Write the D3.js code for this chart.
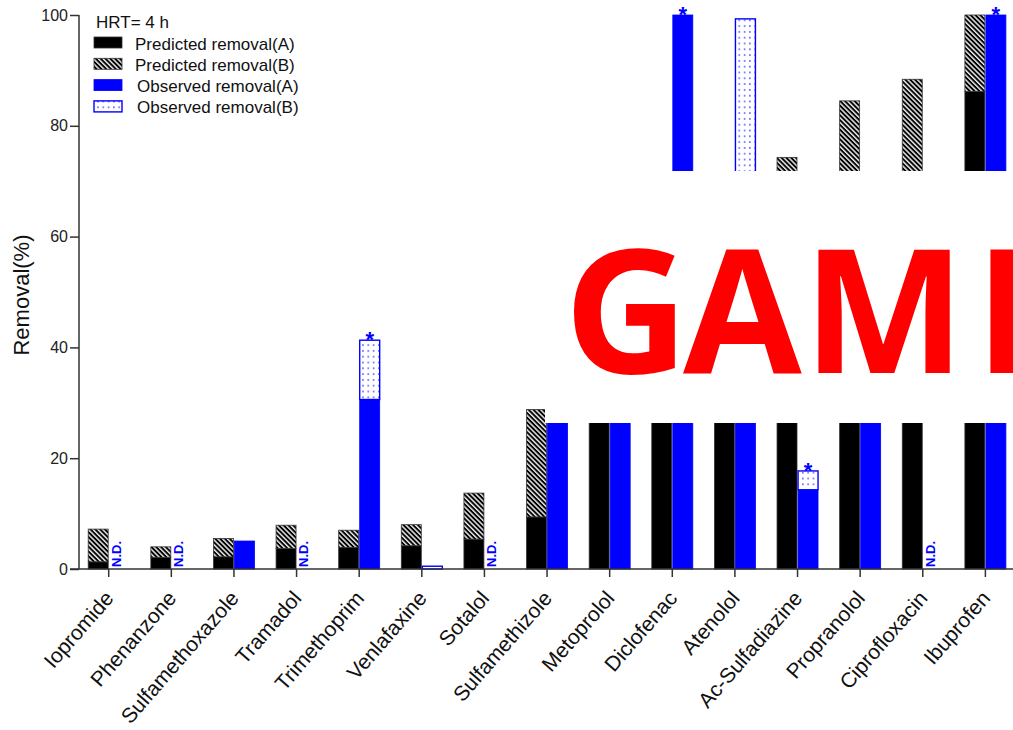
<!DOCTYPE html>
<html>
<head>
<meta charset="utf-8">
<script src="https://cdn.jsdelivr.net/npm/d3@7"></script>
<style>
  html, body { margin: 0; padding: 0; background: #ffffff; }
  svg { display: block; font-family: "Liberation Sans", Arial, sans-serif; }
</style>
</head>
<body>
<svg id="chart" width="1013" height="730"></svg>
<script>
// Compounds on the x axis
const categories = ["Iopromide", "Phenanzone", "Sulfamethoxazole", "Tramadol", "Trimethoprim",
  "Venlafaxine", "Sotalol", "Sulfamethizole", "Metoprolol", "Diclofenac", "Atenolol",
  "Ac-Sulfadiazine", "Propranolol", "Ciprofloxacin", "Ibuprofen"];

// Predicted removal (%) split into mechanism A and the extra part from B (stacked)
const predictedA = [1.3, 2.1, 2.2, 3.7, 3.9, 4.2, 5.4, 9.4, 58, 50, 45, 52, 60, 62, 86.2];
const predictedB = [5.9, 1.9, 3.3, 4.2, 3.1, 3.8, 8.3, 19.4, 0, 0, 0, 22.3, 24.5, 26.4, 13.8];

// Observed removal (%) split the same way; 0 where not detected
const observedA = [0, 0, 5.05, 0, 30.6, 0, 0, 42, 55, 100, 45, 14.3, 50, 0, 100];
const observedB = [0, 0, 0, 0, 10.7, 0.5, 0, 0, 0, 0, 54.3, 3.4, 0, 0, 0];

// Compounds not detected, and compounds flagged with an asterisk
const notDetected = ["Iopromide", "Phenanzone", "Tramadol", "Sotalol", "Ciprofloxacin"];
const flagged = ["Trimethoprim", "Diclofenac", "Ac-Sulfadiazine", "Ibuprofen"];

// Axis ticks and legend
const yTicks = [0, 20, 40, 60, 80, 100];
const legendTitle = "HRT= 4 h";
const legendLabels = ["Predicted removal(A)", "Predicted removal(B)", "Observed removal(A)", "Observed removal(B)"];

const BLUE = "#0000ff";
const svg = d3.select("#chart");

// ---- patterns ----
const defs = svg.append("defs");
const hatch = defs.append("pattern")
  .attr("id", "hatch").attr("patternUnits", "userSpaceOnUse")
  .attr("width", 3.4).attr("height", 10)
  .attr("patternTransform", "rotate(-45)");
hatch.append("rect").attr("width", 3.4).attr("height", 10).attr("fill", "#000");
hatch.append("rect").attr("x", 0).attr("width", 1.5).attr("height", 10).attr("fill", "#e8e8e8");

const dots = defs.append("pattern")
  .attr("id", "dots").attr("patternUnits", "userSpaceOnUse")
  .attr("width", 5.3).attr("height", 5.8);
dots.append("rect").attr("width", 5.3).attr("height", 5.8).attr("fill", "#fff");
dots.append("circle").attr("cx", 2.6).attr("cy", 2.9).attr("r", 0.8).attr("fill", BLUE);

// ---- scales ----
const x = d3.scaleBand().domain(categories).range([77.4, 1016.7]).paddingInner(0).paddingOuter(0);
const inner = d3.scaleBand().domain(["pred", "obs"]).range([-20.5, 20.5]).paddingInner(0.05);
const y = d3.scaleLinear().domain([0, 100]).range([569, 15]);
const cx = c => x(c) + x.bandwidth() / 2;

// ---- stacked data ----
const rows = categories.map((c, i) => ({
  name: c, pA: predictedA[i], pB: predictedB[i], oA: observedA[i], oB: observedB[i]
}));
const predStack = d3.stack().keys(["pA", "pB"])(rows);
const obsStack = d3.stack().keys(["oA", "oB"])(rows);

const fills = { pA: "#000", pB: "url(#hatch)", oA: BLUE, oB: "url(#dots)" };
const strokes = { pA: "#333", pB: "#333", oA: BLUE, oB: BLUE };

const bars = svg.append("g");
function drawStack(stack, slot) {
  stack.forEach(layer => {
    bars.append("g").selectAll("rect")
      .data(layer.filter(d => d[1] - d[0] > 0))
      .join("rect")
      .attr("x", d => cx(d.data.name) + inner(slot))
      .attr("width", inner.bandwidth())
      .attr("y", d => y(d[1]))
      .attr("height", d => y(d[0]) - y(d[1]))
      .attr("fill", fills[layer.key])
      .attr("stroke", strokes[layer.key])
      .attr("stroke-width", layer.key === "oB" ? 1.4 : 0.8);
  });
}
drawStack(predStack, "pred");
drawStack(obsStack, "obs");

// N.D. labels
svg.append("g").selectAll("text")
  .data(notDetected)
  .join("text")
  .attr("transform", d => `translate(${cx(d) + 11.8},${y(0) - 2}) rotate(-90)`)
  .attr("fill", BLUE).attr("font-weight", "bold").attr("font-size", 13)
  .text("N.D.");

// asterisks above flagged observed bars
svg.append("g").selectAll("text")
  .data(flagged)
  .join("text")
  .attr("x", d => cx(d) + inner("obs") + inner.bandwidth() / 2)
  .attr("y", d => { const i = categories.indexOf(d); return y(observedA[i] + observedB[i]) + 7; })
  .attr("text-anchor", "middle")
  .attr("fill", BLUE).attr("font-weight", "bold").attr("font-size", 22)
  .text("*");

// ---- axes ----
const axisColor = "#333";
const yAxis = svg.append("g").attr("transform", "translate(79,0)")
  .call(d3.axisLeft(y).tickValues(yTicks).tickSize(9).tickSizeOuter(0).tickPadding(2));
yAxis.attr("font-family", null);
yAxis.selectAll("text").attr("font-size", 16).attr("fill", "#222");
yAxis.selectAll("line, path").attr("stroke", axisColor).attr("stroke-width", 1.5);
yAxis.select(".domain").attr("d", `M0,${y(100)}V${y(0)}`);

const xAxis = svg.append("g").attr("transform", `translate(0,${y(0)})`)
  .call(d3.axisBottom(x).tickSize(8).tickSizeOuter(0).tickFormat(""));
xAxis.selectAll("line, path").attr("stroke", axisColor).attr("stroke-width", 1.5);
xAxis.select(".domain").attr("d", "M70,0H1013");

// rotated category labels
svg.append("g").selectAll("text")
  .data(categories)
  .join("text")
  .attr("transform", d => `translate(${cx(d) + 6},${599}) rotate(-49)`)
  .attr("text-anchor", "end")
  .attr("font-size", 21).attr("fill", "#111")
  .text(d => d);

// y axis title
svg.append("text")
  .attr("transform", "translate(29,295) rotate(-90)")
  .attr("text-anchor", "middle").attr("font-size", 22).attr("fill", "#111")
  .text("Removal(%)");

// ---- legend ----
const legend = svg.append("g");
legend.append("text").attr("x", 96).attr("y", 28.3).attr("font-size", 17).attr("fill", "#111").text(legendTitle);
const legendFills = [fills.pA, fills.pB, fills.oA, fills.oB];
const legendStrokes = [strokes.pA, strokes.pB, strokes.oA, strokes.oB];
legendLabels.forEach((lab, i) => {
  const top = 37 + i * 21.3;
  legend.append("rect").attr("x", 94).attr("y", top).attr("width", 28).attr("height", 11)
    .attr("fill", legendFills[i]).attr("stroke", legendStrokes[i]).attr("stroke-width", i === 3 ? 1.4 : 0.8);
  legend.append("text").attr("x", i < 2 ? 135 : 137).attr("y", top + 12.5)
    .attr("font-size", 17).attr("fill", "#111").text(lab);
});

// ---- overlay panel with banner text ----
const banner = svg.append("g");
banner.append("rect").attr("x", 545).attr("y", 171).attr("width", 480).attr("height", 252).attr("fill", "#fff");
banner.append("text")
  .attr("x", "564 683 803 975").attr("y", 373)
  .style("font-family", "'Open Sans', sans-serif").attr("font-weight", 700)
  .attr("font-size", 172).attr("fill", "#ff0000")
  .text("GAME");
</script>
</body>
</html>
